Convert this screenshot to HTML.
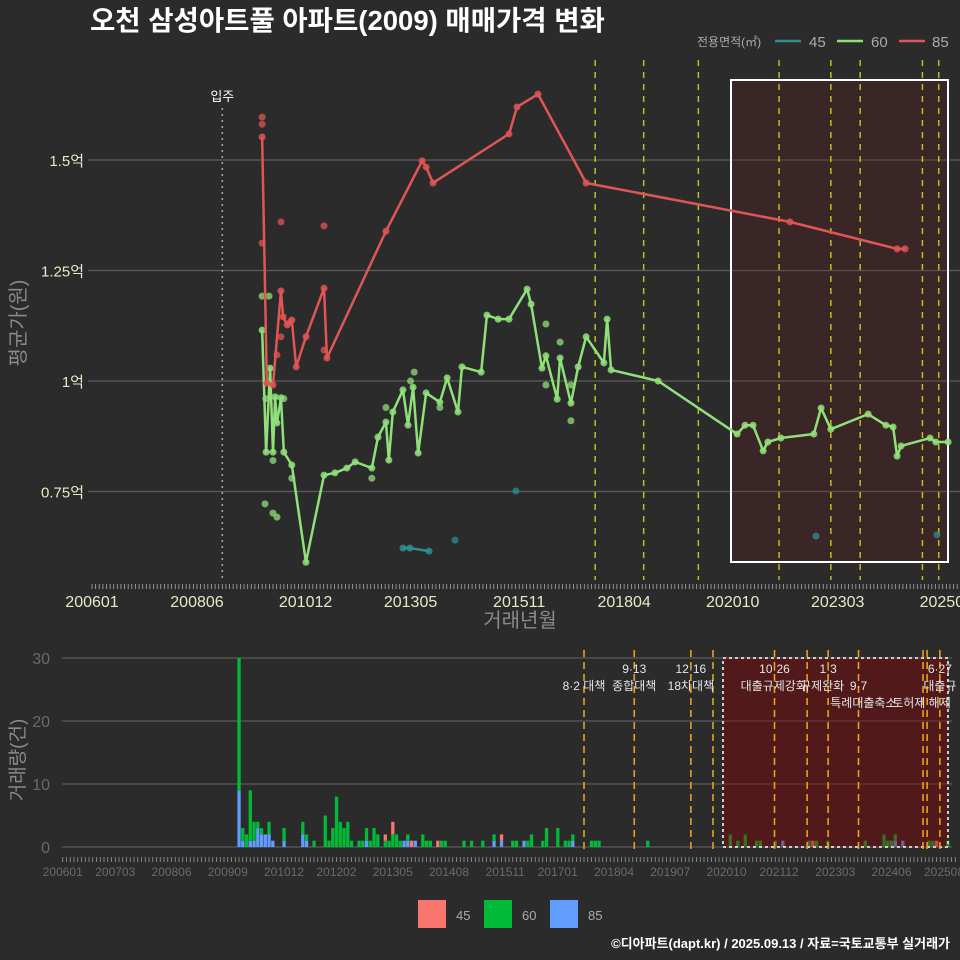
<!DOCTYPE html>
<html><head><meta charset="utf-8">
<style>
html,body{margin:0;padding:0;background:#2b2b2b;}
svg{display:block;font-family:"Liberation Sans","Noto Sans CJK KR",sans-serif;}
</style></head>
<body>
<svg id="chart" width="960" height="960" viewBox="0 0 960 960" xmlns="http://www.w3.org/2000/svg">
<rect x="0" y="0" width="960" height="960" fill="#2b2b2b"/>
<text x="90" y="30" fill="#ffffff" font-size="27.5" font-weight="bold">오천 삼성아트풀 아파트(2009) 매매가격 변화</text>
<g>
<text x="697" y="46" fill="#aaaaaa" font-size="12">전용면적(㎡)</text>
<line x1="775" y1="41" x2="801" y2="41" stroke="#2f8f8f" stroke-width="2.5"/>
<text x="809" y="47" fill="#aaaaaa" font-size="15">45</text>
<line x1="837" y1="41" x2="863" y2="41" stroke="#90e07a" stroke-width="2.5"/>
<text x="871" y="47" fill="#aaaaaa" font-size="15">60</text>
<line x1="899" y1="41" x2="925" y2="41" stroke="#e05555" stroke-width="2.5"/>
<text x="932" y="47" fill="#aaaaaa" font-size="15">85</text>
</g>
<g id="topg"></g>
<g id="botg"></g>
<text x="520" y="627" fill="#8a8a8a" font-size="20" text-anchor="middle">거래년월</text>
<text transform="translate(25,323) rotate(-90)" fill="#8a8a8a" font-size="20" text-anchor="middle">평균가(원)</text>
<text transform="translate(24,760) rotate(-90)" fill="#8a8a8a" font-size="19" text-anchor="middle">거래량(건)</text>
<g>
<rect x="418" y="900" width="28" height="28" fill="#F8766D"/>
<text x="456" y="920" fill="#aaaaaa" font-size="13">45</text>
<rect x="484" y="900" width="28" height="28" fill="#00BA38"/>
<text x="522" y="920" fill="#aaaaaa" font-size="13">60</text>
<rect x="550" y="900" width="28" height="28" fill="#619CFF"/>
<text x="588" y="920" fill="#aaaaaa" font-size="13">85</text>
</g>
<text x="950" y="948" fill="#ffffff" font-size="13" font-weight="bold" text-anchor="end">©디아파트(dapt.kr) / 2025.09.13 / 자료=국토교통부 실거래가</text>
</svg>
<script>
// months since 2006-01
const line85M = [47.0,48.3,50.0,52.2,52.8,53.9,54.7,55.2,56.4,59.1,64.1,64.9,81.2,91.2,92.3,94.2,115.2,117.4,123.2,136.5,192.8,222.4,224.6];
const line85V = [1.552,0.995,0.991,1.204,1.145,1.127,1.133,1.138,1.032,1.100,1.210,1.052,1.339,1.498,1.484,1.448,1.559,1.620,1.649,1.448,1.360,1.299,1.299];
const dot85M = [47,47,47,52.2,64.1,51.1,52.2,64.1];
const dot85V = [1.597,1.581,1.312,1.360,1.351,1.059,1.100,1.070];
const line60M = [47.0,48.1,49.2,50.0,50.6,51.1,52.2,53.0,55.2,59.1,64.1,67.1,70.4,72.7,77.3,79.0,81.2,82.0,83.1,85.9,87.3,88.7,90.1,92.3,96.1,98.1,101.1,102.2,107.5,109.1,112.2,115.2,120.2,121.3,124.3,125.4,128.5,129.3,132.3,134.3,136.5,141.4,142.3,143.4,156.4,178.2,180.4,182.6,185.4,186.7,190.3,199.4,201.4,204.1,214.4,219.3,221.3,222.4,223.5,231.5,233.1,236.5];
const line60V = [1.115,0.839,1.029,0.839,0.964,0.905,0.962,0.839,0.810,0.590,0.787,0.792,0.803,0.817,0.803,0.873,0.907,0.821,0.930,0.980,0.900,0.986,0.837,0.973,0.952,1.007,0.930,1.032,1.020,1.149,1.140,1.140,1.208,1.174,1.029,1.057,0.959,1.052,0.950,1.032,1.100,1.041,1.140,1.025,1.000,0.880,0.900,0.900,0.842,0.862,0.871,0.880,0.939,0.891,0.925,0.900,0.896,0.830,0.853,0.871,0.862,0.862];
const dot60M = [47,48.9,47.8,50.0,51.1,50.0,55.2,89,88,81.2,125.4,129.3,125.4,132.3,132.3,96.1,77.3,48.0,53.0];
const dot60V = [1.192,1.192,0.722,0.701,0.692,0.820,0.780,1.020,1.000,0.940,1.129,1.088,0.991,0.910,0.991,0.940,0.780,0.960,0.960];
const line45M = [85.9,87.8,93.1];
const line45V = [0.622,0.622,0.615];
const dot45M = [100.3,117.1,200.0,233.4];
const dot45V = [0.640,0.751,0.649,0.652];
const yTicks = [0.75,1,1.25,1.5];
const yTickLabels = ["0.75억","1억","1.25억","1.5억"];
const xTickMonths = [0,29,59,88,118,147,177,206,236];
const xTickLabels = ["200601","200806","201012","201305","201511","201804","202010","202303","202509"];
const policyTopMonths = [139.0,152.4,167.5,189.8,204.1,212.2,229.4,233.9];
// bottom volume chart
const barMonths = [47,48,49,50,51,52,53,54,55,56,59,64,65,67,70,71,72,73,74,75,76,77,79,80,81,82,83,84,86,87,88,89,90,91,92,93,94,96,97,98,100,101,102,107,109,112,115,117,120,121,123,124,125,128,129,132,134,135,136,141,142,143,156,178,180,182,185,186,190,192,199,200,201,204,214,219,220,221,222,224,231,232,233,236];
const cnt85 = [9,1,0,1,1,3,2,2,2,1,1,2,1,0,0,0,0,0,0,0,0,0,0,0,1,0,0,0,0,0,0,0,0,1,1,0,1,0,0,0,0,0,0,0,0,0,1,1,0,0,1,0,0,0,0,0,0,0,1,0,0,0,0,0,0,0,0,0,0,1,0,0,0,0,0,0,0,0,1,1,0,0,0,0];
const cnt60 = [21,2,2,8,3,1,1,0,2,0,2,2,1,1,5,1,3,8,4,3,4,1,1,1,2,1,3,2,1,1,2,2,1,0,1,0,0,2,1,1,0,1,1,1,1,1,1,0,1,1,0,1,2,1,3,3,1,1,1,1,1,1,1,2,1,2,1,1,1,0,1,0,1,1,1,2,1,1,1,0,1,1,0,1];
const cnt45 = [0,0,0,0,0,0,0,0,0,0,0,0,0,0,0,0,0,0,0,0,0,0,0,0,0,0,0,0,1,0,2,0,0,0,0,1,0,0,0,0,1,0,0,0,0,0,0,1,0,0,0,0,0,0,0,0,0,0,0,0,0,0,0,0,0,0,0,0,0,0,0,1,0,0,0,0,0,0,0,0,0,0,1,0];
const volTicks = [0,10,20,30];
const bxTickMonths = [0,14,29,44,59,73,88,103,118,132,147,162,177,191,206,221,235];
const bxTickLabels = ["200601","200703","200806","200909","201012","201202","201305","201408","201511","201701","201804","201907","202010","202112","202303","202406","202508"];
const policyBotMonths = [139.0,152.4,167.5,173.4,189.8,198.5,204.1,212.2,229.4,230.5,233.9];
const annoMonths = [139.0,152.4,152.4,167.5,167.5,189.8,189.6,204.1,202.5,212.2,213.5,229.0,233.9,233.9];
const annoRows = [1,0,1,0,1,0,1,0,1,1,2,2,0,1];
const annoTexts = ["8·2 대책","9·13","종합대책","12·16","18차대책","10·26","대출규제강화","1·3","규제완화","9·7","특례대출축소","토허제 해제","6·27","대출규"];

const NS = "http://www.w3.org/2000/svg";
function mk(tag, attrs, parent){const e=document.createElementNS(NS,tag);for(const k in attrs)e.setAttribute(k,attrs[k]);parent.appendChild(e);return e;}
const xT = m => 92 + m*3.62;
const yT = v => 381 - (v-1)*442;
const xB = m => 62.75 + m*3.75;
const yB = c => 847 - c*6.3;

const topG = document.getElementById('topg');
const botG = document.getElementById('botg');

yTicks.forEach((v,i)=>{
  const g = mk('line',{x1:88,x2:960,y1:yT(v),y2:yT(v),stroke:'#5c5c5c','stroke-width':1.2},topG);
  
  
  const t = mk('text',{x:84,y:yT(v)+6,fill:'#e8e8c8','font-size':15,'text-anchor':'end'},topG);
  t.textContent = yTickLabels[i];
  
  
});
const tb = mk('rect',{x:731,y:80,width:217,height:482,fill:'rgba(120,20,20,0.2)',stroke:'#ffffff','stroke-width':2},topG);


const mv = mk('line',{x1:xT(36),x2:xT(36),y1:108,y2:580,stroke:'#aaaaaa','stroke-width':1.5,'stroke-dasharray':'2,4'},topG);


const mvt = mk('text',{x:xT(36),y:101,fill:'#ffffff','font-size':13,'text-anchor':'middle'},topG);
mvt.textContent='입주';


policyTopMonths.forEach(m=>{
  const l = mk('line',{x1:xT(m),x2:xT(m),y1:60,y2:580,stroke:'#d8d820','stroke-width':1.5,'stroke-dasharray':'6,6',opacity:0.85},topG);
  
  
});
for(let m=0;m<=240;m++){
  const l = mk('line',{x1:xT(m),x2:xT(m),y1:584,y2:589,stroke:'#aaaaaa','stroke-width':0.8},topG);
  
  
}
xTickMonths.forEach((m,i)=>{
  const t = mk('text',{x:xT(m),y:607,fill:'#e8e8c8','font-size':16,'text-anchor':'middle'},topG);
  t.textContent = xTickLabels[i];
  
  
});
function series(M,V,DM,DV,color,name){
  const pts = M.map((m,i)=>xT(m)+','+yT(V[i])).join(' ');
  const pl = mk('polyline',{points:pts,fill:'none',stroke:color,'stroke-width':2.5,'stroke-linejoin':'round'},topG);
  
  
  M.forEach((m,i)=>{
    const c = mk('circle',{cx:xT(m),cy:yT(V[i]),r:3.5,fill:color,opacity:0.85},topG);
    
    
  });
  DM.forEach((m,i)=>{
    const c = mk('circle',{cx:xT(m),cy:yT(DV[i]),r:3.5,fill:color,opacity:0.75},topG);
    
    
  });
}
series(line45M,line45V,dot45M,dot45V,'#2f8f8f','45');
series(line60M,line60V,dot60M,dot60V,'#90e07a','60');
series(line85M,line85V,dot85M,dot85V,'#e05555','85');

volTicks.forEach(v=>{
  const g = mk('line',{x1:62,x2:952,y1:yB(v),y2:yB(v),stroke:'#666666','stroke-width':1},botG);
  
  
  const t = mk('text',{x:50,y:yB(v)+6,fill:'#6a6a6a','font-size':16,'text-anchor':'end'},botG);
  t.textContent = String(v);
  
  
});
barMonths.forEach((m,i)=>{
  let base = 0;
  [[cnt85[i],'#619CFF','85'],[cnt60[i],'#00BA38','60'],[cnt45[i],'#F8766D','45']].forEach(s=>{
    if(s[0]>0){
      const r = mk('rect',{x:xB(m)-1.6,y:yB(base+s[0]),width:3.3,height:s[0]*6.3,fill:s[1]},botG);
      
      
      base += s[0];
    }
  });
});
const bb = mk('rect',{x:723,y:658,width:225,height:189,fill:'rgba(139,0,0,0.4)',stroke:'#cccccc','stroke-width':2,'stroke-dasharray':'3,3'},botG);


policyBotMonths.forEach(m=>{
  const l = mk('line',{x1:xB(m),x2:xB(m),y1:650,y2:850,stroke:'#e8a020','stroke-width':1.6,'stroke-dasharray':'7,5'},botG);
  
  
});
annoMonths.forEach((m,i)=>{
  const t = mk('text',{x:xB(m),y:673+annoRows[i]*17,fill:'#e6e6e6','font-size':12,'text-anchor':'middle'},botG);
  t.textContent = annoTexts[i];
  
  
});
for(let m=0;m<=238;m++){
  const l = mk('line',{x1:xB(m),x2:xB(m),y1:857,y2:862,stroke:'#999999','stroke-width':0.8},botG);
  
  
}
bxTickMonths.forEach((m,i)=>{
  const t = mk('text',{x:xB(m),y:876,fill:'#6a6a6a','font-size':12,'text-anchor':'middle'},botG);
  t.textContent = bxTickLabels[i];
  
  
});
</script>
</body></html>
